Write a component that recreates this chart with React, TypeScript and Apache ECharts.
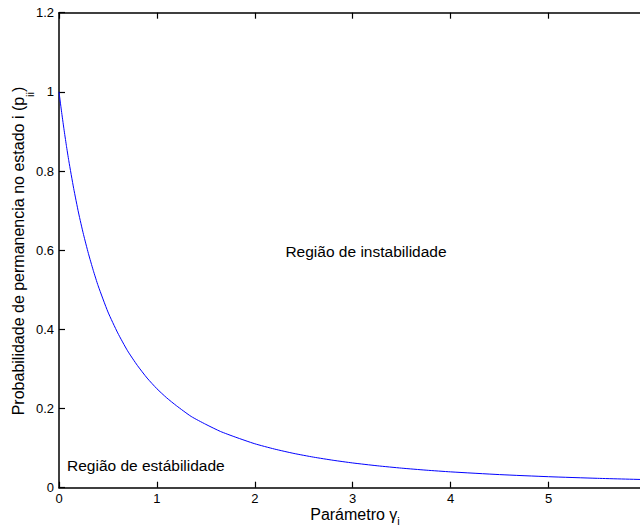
import React, { useEffect, useRef } from "react";
import * as echarts from "echarts";

const gammaValues = [0, 0.025, 0.05, 0.075, 0.1, 0.15, 0.2, 0.25, 0.3, 0.35, 0.4, 0.5, 0.6, 0.7, 0.8, 0.9, 1.0, 1.1, 1.2, 1.35, 1.5, 1.65, 1.8, 2.0, 2.2, 2.4, 2.6, 2.8, 3.0, 3.25, 3.5, 3.75, 4.0, 4.5, 5.0, 5.5, 6.0];
const probValues = [1.0, 0.952, 0.907, 0.865, 0.826, 0.756, 0.694, 0.64, 0.592, 0.549, 0.51, 0.444, 0.391, 0.346, 0.309, 0.277, 0.25, 0.227, 0.207, 0.18, 0.16, 0.142, 0.128, 0.111, 0.0977, 0.0865, 0.0772, 0.0693, 0.0625, 0.0554, 0.0494, 0.0443, 0.04, 0.0331, 0.0278, 0.0237, 0.0204];

const xTicks = { min: 0, max: 6, interval: 1, lastLabel: 5 };
const yTicks = { min: 0, max: 1.2, interval: 0.2 };

const annotationUnstable = "Região de instabilidade";
const annotationStable = "Região de estábilidade";
const xTitleMain = "Parámetro γ";
const xTitleSub = "i";
const yTitleMain = "Probabilidade de permanencia no estado i (p";
const yTitleSub = "ii";
const yTitleEnd = ")";

const FONT = "'Liberation Sans', Arial, Helvetica, sans-serif";
const CHART_W = 660;

export default function App() {
  const ref = useRef<HTMLDivElement>(null);
  useEffect(() => {
    if (!ref.current) return;
    const chart = echarts.init(ref.current, null, { renderer: "svg" });
    const axisLine = { show: true, onZero: false, lineStyle: { color: "#000", width: 1.5 } };
    const axisTick = { show: true, inside: true, length: 6, lineStyle: { color: "#000", width: 1.2 } };
    chart.setOption({
      animation: false,
      backgroundColor: "#fff",
      textStyle: { fontFamily: FONT },
      grid: { left: 59, top: 12.7, bottom: 39.3, right: CHART_W - 646.4, containLabel: false },
      xAxis: [
        {
          type: "value",
          min: xTicks.min,
          max: xTicks.max,
          interval: xTicks.interval,
          position: "bottom",
          axisLine,
          axisTick,
          splitLine: { show: false },
          axisLabel: {
            color: "#000",
            fontSize: 13,
            lineHeight: 10,
            fontFamily: FONT,
            margin: 6,
            formatter: (v: number) => (v > xTicks.lastLabel ? "" : String(v)),
          },
        },
        {
          type: "value",
          min: xTicks.min,
          max: xTicks.max,
          interval: xTicks.interval,
          position: "top",
          axisLine,
          axisTick,
          splitLine: { show: false },
          axisLabel: { show: false },
        },
      ],
      yAxis: {
        type: "value",
        min: yTicks.min,
        max: yTicks.max,
        interval: yTicks.interval,
        axisLine,
        axisTick,
        splitLine: { show: false },
        axisLabel: {
          color: "#000",
          fontSize: 13,
          fontFamily: FONT,
          margin: 5,
          formatter: (v: number) => (Math.abs(v - Math.round(v)) < 1e-9 ? String(Math.round(v)) : v.toFixed(1)),
        },
      },
      series: [
        {
          type: "line",
          data: gammaValues.map((g, i) => [g, probValues[i]]),
          showSymbol: false,
          smooth: 0.2,
          lineStyle: { color: "#0000ff", width: 1 },
          silent: true,
        },
      ],
      graphic: [
        {
          type: "text",
          x: 366,
          y: 251.6,
          style: { text: annotationUnstable, fontSize: 15.5, fontFamily: FONT, fill: "#000", align: "center", verticalAlign: "middle" },
        },
        {
          type: "text",
          x: 67,
          y: 465,
          style: { text: annotationStable, fontSize: 15.5, fontFamily: FONT, fill: "#000", align: "left", verticalAlign: "middle" },
        },
        {
          type: "text",
          x: 355,
          y: 506,
          style: {
            text: `{a|${xTitleMain}}{s|${xTitleSub}}`,
            rich: {
              a: { fontSize: 16, lineHeight: 14, verticalAlign: "top", fontFamily: FONT, color: "#000" },
              s: { fontSize: 11, lineHeight: 10, padding: [9, 0, 0, 0], verticalAlign: "top", fontFamily: FONT, color: "#000" },
            },
            align: "center",
            verticalAlign: "top",
          },
        },
        {
          type: "text",
          x: 10.4,
          y: 251,
          rotation: Math.PI / 2,
          style: {
            text: `{a|${yTitleMain}}{s|${yTitleSub}}{a|${yTitleEnd}}`,
            rich: {
              a: { fontSize: 16, lineHeight: 18, verticalAlign: "top", fontFamily: FONT, color: "#000" },
              s: { fontSize: 11, lineHeight: 12, padding: [14, 0, 0, 0], verticalAlign: "top", fontFamily: FONT, color: "#000" },
            },
            align: "center",
            verticalAlign: "top",
          },
        },
      ],
    });
    return () => chart.dispose();
  }, []);
  return (
    <div style={{ position: "fixed", left: 0, top: 0, width: 640, height: 527, background: "#fff", overflow: "hidden" }}>
      <div ref={ref} style={{ width: CHART_W, height: 527 }} />
    </div>
  );
}
